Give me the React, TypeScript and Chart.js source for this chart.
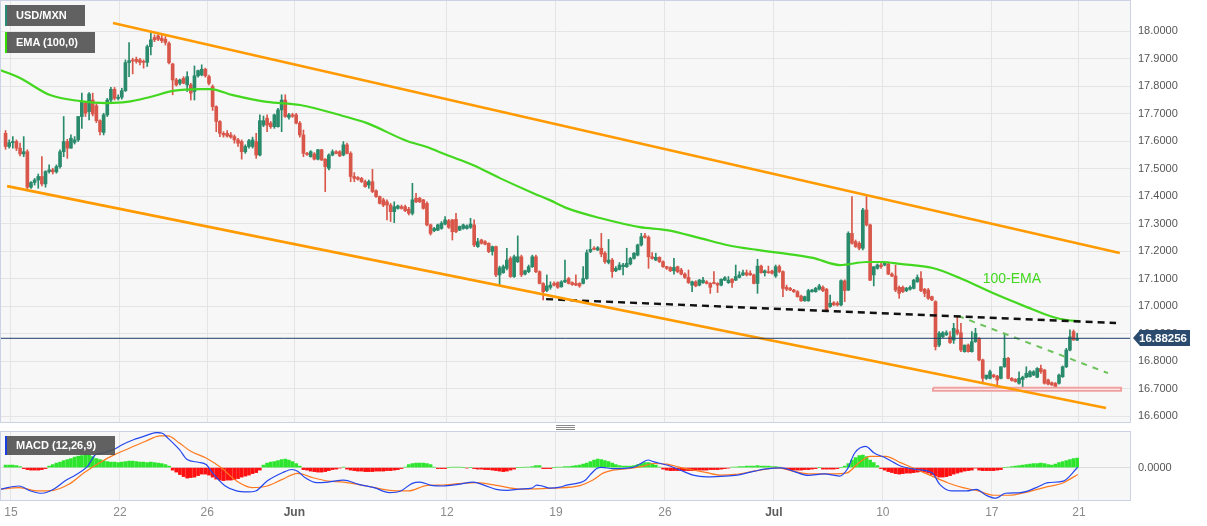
import React, { useEffect, useRef } from 'react';
import { Chart, registerables } from 'chart.js';

Chart.register(...registerables);

const FONT = '"Liberation Sans", Arial, Helvetica, sans-serif';

// ---- x axis: trading days counted from 15 May (weekends removed) ----
const DAY_TICKS = [0, 5, 9, 13, 20, 25, 30, 35, 40, 45, 49];
const DAY_LABELS = ['15', '22', '26', 'Jun', '12', '19', '26', 'Jul', '10', '17', '21'];
const MONTH_LABELS = ['Jun', 'Jul'];
const X_RANGE = [-0.4588, 51.34];

// ---- price axis ----
const PRICE_TICKS = [16.6, 16.7, 16.8, 16.9, 17.0, 17.1, 17.2, 17.3, 17.4, 17.5, 17.6, 17.7, 17.8, 17.9, 18.0];
const PRICE_RANGE = [16.5782, 18.1091];

// 4-hour candles
const FIRST_CANDLE_DAY = -0.25;
const CANDLES_PER_DAY = 6;

// [open, high, low, close]
const CANDLES: number[][] = [
  [17.628,17.638,17.570,17.580],[17.580,17.604,17.574,17.594],[17.594,17.616,17.574,17.598],[17.598,17.604,17.565,17.574],
  [17.574,17.592,17.546,17.553],[17.553,17.616,17.543,17.561],[17.561,17.568,17.422,17.432],[17.432,17.452,17.428,17.449],
  [17.449,17.464,17.440,17.458],[17.458,17.480,17.428,17.471],[17.471,17.543,17.437,17.444],[17.444,17.492,17.432,17.489],
  [17.489,17.513,17.483,17.495],[17.495,17.501,17.480,17.488],[17.488,17.513,17.483,17.507],[17.507,17.568,17.501,17.561],
  [17.561,17.689,17.543,17.598],[17.598,17.606,17.537,17.574],[17.574,17.622,17.574,17.610],[17.595,17.616,17.589,17.604],
  [17.604,17.689,17.598,17.689],[17.689,17.774,17.646,17.743],[17.737,17.743,17.689,17.701],[17.707,17.776,17.677,17.771],
  [17.749,17.774,17.691,17.698],[17.728,17.735,17.667,17.674],[17.674,17.677,17.622,17.634],[17.631,17.701,17.622,17.695],
  [17.695,17.755,17.689,17.749],[17.749,17.795,17.743,17.788],[17.788,17.795,17.749,17.755],[17.755,17.768,17.749,17.759],
  [17.759,17.792,17.752,17.783],[17.783,17.895,17.780,17.885],[17.885,17.958,17.834,17.892],[17.892,17.901,17.844,17.891],
  [17.897,17.905,17.883,17.889],[17.895,17.901,17.877,17.886],[17.889,17.895,17.865,17.886],[17.886,17.949,17.871,17.943],
  [17.943,17.992,17.913,17.968],[17.976,17.986,17.961,17.968],[17.982,17.989,17.965,17.970],[17.974,17.986,17.958,17.965],
  [17.970,17.980,17.949,17.958],[17.955,17.961,17.880,17.885],[17.880,17.883,17.768,17.822],[17.822,17.828,17.800,17.804],
  [17.810,17.825,17.804,17.822],[17.828,17.834,17.808,17.810],[17.804,17.852,17.780,17.834],[17.804,17.810,17.749,17.774],
  [17.780,17.873,17.749,17.837],[17.837,17.858,17.832,17.856],[17.840,17.877,17.837,17.861],[17.861,17.865,17.832,17.837],
  [17.834,17.840,17.804,17.810],[17.798,17.804,17.711,17.725],[17.725,17.728,17.634,17.671],[17.671,17.674,17.616,17.628],
  [17.628,17.634,17.614,17.622],[17.628,17.638,17.614,17.618],[17.622,17.631,17.610,17.614],[17.616,17.622,17.592,17.604],
  [17.604,17.610,17.580,17.592],[17.598,17.604,17.534,17.561],[17.561,17.586,17.555,17.580],[17.580,17.606,17.574,17.601],
  [17.580,17.614,17.574,17.604],[17.598,17.628,17.537,17.549],[17.549,17.695,17.546,17.674],[17.658,17.691,17.652,17.674],
  [17.683,17.695,17.634,17.658],[17.665,17.671,17.646,17.652],[17.652,17.698,17.646,17.695],[17.652,17.719,17.650,17.713],
  [17.713,17.768,17.634,17.749],[17.749,17.768,17.686,17.689],[17.686,17.701,17.679,17.695],[17.695,17.701,17.686,17.690],
  [17.695,17.701,17.662,17.665],[17.665,17.671,17.614,17.622],
  [17.622,17.640,17.543,17.555],[17.555,17.559,17.548,17.551],[17.543,17.565,17.541,17.561],[17.553,17.558,17.531,17.534],
  [17.534,17.570,17.531,17.568],[17.568,17.570,17.529,17.531],[17.534,17.536,17.416,17.507],[17.501,17.553,17.495,17.549],
  [17.549,17.568,17.546,17.561],[17.561,17.565,17.553,17.555],[17.561,17.565,17.543,17.546],[17.549,17.598,17.546,17.586],
  [17.586,17.592,17.553,17.555],[17.555,17.561,17.452,17.471],[17.471,17.485,17.452,17.464],[17.467,17.471,17.458,17.461],
  [17.464,17.468,17.449,17.452],[17.452,17.458,17.432,17.434],[17.440,17.458,17.428,17.452],[17.452,17.497,17.412,17.416],
  [17.419,17.422,17.395,17.398],[17.398,17.400,17.371,17.373],[17.386,17.392,17.361,17.367],[17.379,17.386,17.313,17.367],
  [17.367,17.373,17.307,17.343],[17.343,17.379,17.303,17.361],[17.355,17.367,17.352,17.364],[17.361,17.367,17.352,17.355],
  [17.361,17.367,17.343,17.347],[17.352,17.359,17.331,17.337],[17.337,17.446,17.331,17.386],[17.392,17.410,17.376,17.379],
  [17.392,17.395,17.376,17.379],[17.386,17.388,17.352,17.355],[17.373,17.379,17.291,17.295],[17.295,17.298,17.258,17.264],
  [17.274,17.286,17.270,17.282],[17.276,17.298,17.274,17.295],[17.282,17.307,17.279,17.301],[17.298,17.325,17.295,17.313],
  [17.310,17.315,17.282,17.286],[17.313,17.315,17.240,17.270],[17.315,17.337,17.267,17.270],[17.276,17.291,17.274,17.289],
  [17.282,17.298,17.279,17.295],[17.282,17.295,17.279,17.291],[17.286,17.319,17.282,17.298],[17.295,17.313,17.216,17.222],
  [17.216,17.246,17.213,17.234],[17.240,17.243,17.225,17.228],[17.234,17.238,17.222,17.225],[17.228,17.230,17.194,17.198],
  [17.198,17.218,17.185,17.216],[17.216,17.218,17.107,17.113],[17.113,17.145,17.076,17.139],[17.121,17.149,17.119,17.143],
  [17.137,17.210,17.131,17.167],[17.173,17.179,17.104,17.107],[17.107,17.185,17.104,17.179],[17.161,17.255,17.158,17.179],
  [17.179,17.185,17.107,17.113],[17.116,17.131,17.113,17.128],[17.125,17.149,17.121,17.143],[17.143,17.185,17.140,17.179],
  [17.179,17.185,17.121,17.125],[17.125,17.128,17.080,17.082],[17.082,17.085,17.022,17.052],[17.056,17.113,17.052,17.073],
  [17.068,17.088,17.061,17.076],[17.082,17.088,17.073,17.076],[17.085,17.088,17.064,17.068],[17.070,17.092,17.068,17.088],
  [17.088,17.167,17.085,17.094],[17.100,17.104,17.080,17.082],[17.085,17.088,17.075,17.078],[17.082,17.113,17.074,17.076],
  [17.082,17.085,17.068,17.073],[17.082,17.143,17.080,17.100],[17.100,17.204,17.097,17.194],[17.198,17.242,17.194,17.206],
  [17.210,17.216,17.204,17.206],[17.204,17.216,17.201,17.212],
  [17.210,17.264,17.179,17.189],[17.192,17.198,17.155,17.161],[17.158,17.242,17.153,17.167],[17.167,17.173,17.104,17.125],
  [17.128,17.143,17.125,17.137],[17.133,17.158,17.131,17.149],[17.143,17.155,17.113,17.149],[17.143,17.210,17.140,17.155],
  [17.153,17.177,17.149,17.173],[17.173,17.194,17.170,17.192],[17.185,17.225,17.182,17.222],[17.222,17.264,17.218,17.252],
  [17.255,17.264,17.247,17.250],[17.250,17.255,17.137,17.179],[17.179,17.194,17.170,17.173],[17.167,17.192,17.165,17.177],
  [17.177,17.179,17.158,17.161],[17.161,17.164,17.140,17.143],[17.143,17.145,17.133,17.137],[17.140,17.143,17.125,17.128],
  [17.128,17.173,17.116,17.140],[17.143,17.145,17.121,17.125],[17.131,17.137,17.113,17.116],[17.116,17.121,17.100,17.104],
  [17.104,17.131,17.082,17.085],[17.076,17.091,17.052,17.088],[17.088,17.092,17.070,17.073],[17.076,17.097,17.073,17.094],
  [17.085,17.104,17.082,17.094],[17.088,17.092,17.080,17.082],[17.082,17.085,17.046,17.068],[17.085,17.125,17.080,17.082],
  [17.082,17.085,17.049,17.076],[17.076,17.099,17.073,17.097],[17.094,17.107,17.092,17.103],[17.085,17.107,17.082,17.094],
  [17.097,17.100,17.068,17.085],[17.094,17.149,17.092,17.107],[17.104,17.125,17.102,17.113],[17.113,17.131,17.110,17.121],
  [17.121,17.131,17.109,17.113],[17.119,17.128,17.111,17.113],[17.113,17.116,17.080,17.082],[17.082,17.170,17.046,17.145],
  [17.145,17.149,17.119,17.121],[17.121,17.131,17.109,17.128],[17.125,17.145,17.119,17.121],[17.127,17.131,17.116,17.119],
  [17.109,17.149,17.104,17.143],[17.143,17.149,17.121,17.125],[17.125,17.128,17.034,17.064],[17.068,17.076,17.056,17.061],
  [17.064,17.068,17.056,17.058],[17.058,17.061,17.049,17.052],[17.052,17.056,17.032,17.034],[17.036,17.040,17.017,17.019],
  [17.019,17.036,17.017,17.034],[17.019,17.061,17.017,17.056],[17.052,17.061,17.050,17.058],[17.052,17.068,17.050,17.064],
  [17.061,17.079,17.058,17.073],[17.068,17.073,17.052,17.056],[17.061,17.064,16.979,16.985],[16.998,17.040,16.995,17.010],
  [17.012,17.016,17.002,17.004],[17.010,17.016,17.000,17.004],[17.004,17.095,17.000,17.092],[17.091,17.095,17.016,17.056],
  [17.058,17.270,17.056,17.264],[17.264,17.398,17.225,17.228],[17.234,17.240,17.213,17.216],[17.228,17.234,17.204,17.210],
  [17.210,17.355,17.204,17.349],[17.349,17.398,17.291,17.295],[17.295,17.298,17.092,17.094],[17.113,17.143,17.073,17.143],
  [17.137,17.153,17.134,17.149],[17.149,17.155,17.137,17.143],[17.149,17.161,17.146,17.158],[17.153,17.158,17.114,17.116],
  [17.116,17.121,17.107,17.109],[17.109,17.149,17.052,17.058],[17.068,17.073,17.028,17.046],
  [17.068,17.073,17.049,17.052],[17.056,17.068,17.052,17.064],[17.061,17.073,17.058,17.068],[17.064,17.097,17.062,17.094],
  [17.088,17.113,17.086,17.104],[17.100,17.125,17.052,17.056],[17.061,17.064,17.034,17.046],[17.058,17.064,17.024,17.028],
  [17.034,17.036,17.019,17.022],[17.016,17.019,16.840,16.852],[16.858,16.907,16.852,16.901],[16.888,16.907,16.885,16.903],
  [16.895,16.910,16.893,16.903],[16.888,16.907,16.864,16.867],[16.876,16.937,16.864,16.919],[16.913,16.961,16.895,16.901],
  [16.903,16.937,16.834,16.840],[16.834,16.858,16.832,16.858],[16.858,16.862,16.832,16.834],[16.834,16.907,16.832,16.870],
  [16.870,16.919,16.868,16.901],[16.882,16.885,16.800,16.804],[16.804,16.807,16.725,16.737],[16.737,16.745,16.733,16.749],
  [16.737,16.767,16.735,16.761],[16.749,16.752,16.739,16.743],[16.745,16.748,16.713,16.731],[16.737,16.779,16.735,16.779],
  [16.779,16.901,16.777,16.810],[16.810,16.813,16.735,16.737],[16.737,16.740,16.727,16.729],[16.733,16.736,16.723,16.725],
  [16.719,16.761,16.716,16.737],[16.733,16.745,16.695,16.741],[16.741,16.779,16.739,16.755],[16.743,16.765,16.741,16.761],
  [16.749,16.765,16.747,16.761],[16.741,16.776,16.739,16.773],[16.773,16.785,16.755,16.761],[16.767,16.770,16.716,16.719],
  [16.731,16.734,16.713,16.716],[16.721,16.724,16.711,16.713],[16.719,16.722,16.705,16.707],[16.719,16.752,16.716,16.749],
  [16.743,16.782,16.740,16.779],[16.779,16.846,16.776,16.840],[16.840,16.913,16.837,16.888],[16.907,16.913,16.876,16.876],
  [16.876,16.901,16.874,16.88256],
];
const LAST_PRICE = 16.88256;

// [day, value]
const EMA_100 = [
  [-0.50,17.858],[0.41,17.829],[1.79,17.767],[3.17,17.745],[4.40,17.738],[5.32,17.742],[6.38,17.760],[7.43,17.782],
  [8.67,17.789],[9.13,17.789],[10.18,17.767],[11.74,17.742],[13.26,17.731],[15.23,17.691],[16.33,17.665],[18.17,17.600],
  [19.08,17.578],[20.00,17.549],[21.19,17.513],[22.43,17.465],[23.94,17.411],[24.72,17.385],[25.50,17.356],[27.02,17.320],
  [28.85,17.287],[30.09,17.276],[31.61,17.247],[32.84,17.222],[34.22,17.204],[35.28,17.193],[36.79,17.175],[38.03,17.149],
  [39.27,17.160],[40.00,17.160],[40.78,17.153],[42.29,17.138],[43.53,17.102],[45.05,17.047],[46.61,16.996],[47.80,16.960],
  [48.44,16.949],[49.04,16.945],
];
const UPPER_CHANNEL = [[4.68, 18.029], [50.87, 17.193]];
const LOWER_CHANNEL = [[-0.18, 17.436], [50.24, 16.629]];
const SUPPORT_LINE = [[24.55, 17.025], [50.70, 16.938]];
const FALLING_LINE = [[43.45, 16.964], [50.33, 16.756]];
const ZONE_DAYS = [42.30, 50.93];
const ZONE_PRICES = [16.6915, 16.7025];
const EMA_LABEL_POS = [45.92, 17.098];

// ---- MACD (12,26,9) ----
const MACD_RANGE = [-0.0648, 0.0712];
const MACD_LINE = [
  [-0.50,-0.0434],[0.37,-0.0368],[0.90,-0.0467],[1.42,-0.0513],[1.95,-0.0434],[2.47,-0.0269],[3.00,-0.0137],[3.52,0.0028],
  [3.87,0.0259],[4.22,0.0292],[4.75,0.0371],[5.10,0.0457],[5.62,0.0556],[6.15,0.0635],[6.67,0.0701],[6.94,0.0688],
  [7.20,0.0589],[7.73,0.0358],[8.08,0.0160],[8.60,0.0107],[8.95,0.0061],[9.30,-0.0137],[9.83,-0.0368],[10.35,-0.0467],
  [10.88,-0.0487],[11.23,-0.0467],[11.75,-0.0269],[12.45,-0.0104],[12.89,-0.0038],[13.15,-0.0071],[13.50,-0.0203],[14.03,-0.0302],
  [14.55,-0.0289],[15.26,-0.0249],[15.96,-0.0335],[16.66,-0.0401],[17.36,-0.0500],[17.88,-0.0467],[18.41,-0.0315],[18.76,-0.0289],
  [19.28,-0.0355],[19.81,-0.0368],[20.51,-0.0335],[21.21,-0.0289],[21.73,-0.0355],[22.26,-0.0434],[22.78,-0.0454],[23.35,-0.0430],
  [23.90,-0.0410],[24.12,-0.0350],[24.35,-0.0365],[24.73,-0.0410],[25.19,-0.0390],[25.50,-0.0350],[26.10,-0.0300],[26.33,-0.0260],
  [26.56,-0.0150],[26.87,-0.0020],[27.10,0.0005],[27.62,-0.0020],[28.54,0.0005],[28.86,0.0072],[29.24,0.0152],[29.47,0.0118],
  [30.08,0.0052],[30.69,-0.0048],[31.29,-0.0150],[31.92,-0.0185],[32.34,-0.0180],[33.22,-0.0157],[34.11,-0.0071],[34.64,-0.0025],
  [35.35,-0.0005],[35.88,-0.0071],[36.59,-0.0157],[37.30,-0.0124],[38.01,-0.0170],[38.36,-0.0038],[38.71,0.0292],[39.21,0.0424],
  [39.60,0.0292],[40.13,0.0193],[40.84,0.0028],[41.55,-0.0038],[42.26,-0.0104],[42.61,-0.0335],[43.15,-0.0467],[43.85,-0.0467],
  [44.29,-0.0434],[44.74,-0.0553],[45.18,-0.0612],[45.62,-0.0513],[46.33,-0.0500],[47.04,-0.0401],[47.57,-0.0302],[48.28,-0.0269],
  [48.94,0.0008],
];
const SIGNAL_LINE = [
  [-0.50,-0.0434],[0.37,-0.0401],[1.25,-0.0467],[1.95,-0.0454],[2.65,-0.0335],[3.35,-0.0104],[4.05,0.0094],[4.75,0.0259],
  [5.45,0.0391],[6.15,0.0523],[6.85,0.0635],[7.20,0.0635],[7.73,0.0490],[8.25,0.0325],[8.95,0.0193],[9.65,-0.0005],
  [10.35,-0.0269],[11.05,-0.0401],[11.75,-0.0368],[12.45,-0.0236],[13.15,-0.0117],[13.86,-0.0203],[14.55,-0.0269],[15.26,-0.0289],
  [16.31,-0.0368],[17.36,-0.0454],[18.23,-0.0467],[19.11,-0.0355],[19.81,-0.0348],[20.51,-0.0322],[21.39,-0.0302],[22.26,-0.0355],
  [23.35,-0.0430],[24.86,-0.0410],[26.10,-0.0360],[26.70,-0.0250],[27.16,-0.0110],[27.62,-0.0050],[28.40,-0.0018],[29.00,0.0028],
  [29.46,0.0082],[30.10,0.0068],[30.69,0.0006],[31.29,-0.0048],[31.92,-0.0102],[32.53,-0.0150],[33.22,-0.0137],[34.11,-0.0071],
  [35.17,-0.0005],[35.88,-0.0071],[36.59,-0.0124],[37.65,-0.0124],[38.36,-0.0104],[38.89,0.0094],[39.42,0.0226],[40.13,0.0226],
  [40.84,0.0094],[41.55,-0.0038],[42.26,-0.0170],[42.97,-0.0302],[43.67,-0.0401],[44.38,-0.0467],[45.09,-0.0553],[45.80,-0.0553],
  [46.51,-0.0500],[47.39,-0.0401],[48.28,-0.0302],[48.94,-0.0137],
];
// one histogram bar per candle
const MACD_HIST = [
  0.005,0.005,0.005,0.004,0.002,-0.002,-0.004,-0.005,-0.005,-0.005,-0.004,-0.002,
  0.003,0.006,0.009,0.011,0.014,0.016,0.018,0.021,0.023,0.024,0.025,0.025,0.022,0.018,0.016,0.014,0.012,0.011,
  0.011,0.010,0.011,0.012,0.013,0.013,0.012,0.011,0.011,0.010,0.011,0.010,0.009,0.008,0.006,0.003,
  -0.005,-0.009,-0.014,-0.018,-0.021,-0.020,-0.019,-0.016,-0.013,-0.013,-0.015,-0.019,-0.023,-0.025,-0.026,-0.025,-0.025,-0.024,-0.022,-0.019,-0.017,-0.015,-0.012,-0.010,-0.005,
  0.005,0.009,0.011,0.012,0.014,0.016,0.017,0.015,0.012,0.008,0.003,
  -0.004,-0.005,-0.007,-0.008,-0.009,-0.009,-0.008,-0.006,-0.004,-0.003,-0.001,0.001,
  -0.003,-0.005,-0.006,-0.007,-0.007,-0.008,-0.008,-0.008,-0.007,-0.007,-0.007,-0.006,-0.006,-0.005,-0.004,-0.002,0.001,
  0.006,0.008,0.009,0.009,0.009,0.008,0.006,0.001,
  -0.002,-0.002,-0.002,0.000,0.001,0.001,0.001,0.000,-0.001,0.000,-0.002,
  -0.003,-0.003,-0.004,-0.004,-0.005,-0.006,-0.007,-0.008,-0.007,-0.005,-0.003,
  0.000,0.000,0.001,0.001,0.002,0.004,0.004,-0.002,-0.002,-0.002,0.000,0.001,
  0.001,0.002,0.002,0.003,0.004,0.005,0.007,0.009,0.012,0.015,0.017,
  0.016,0.014,0.012,0.009,0.006,0.004,0.003,0.003,0.003,0.004,0.006,0.008,0.010,0.010,0.008,0.005,0.001,
  -0.003,-0.005,-0.006,-0.006,-0.006,-0.006,-0.006,-0.006,-0.006,-0.005,-0.005,-0.005,-0.005,-0.004,-0.004,-0.004,-0.003,-0.002,-0.001,
  0.001,0.001,0.002,0.002,0.003,0.003,0.003,0.004,0.003,0.003,0.003,0.002,0.002,0.001,
  -0.002,-0.004,-0.005,-0.005,-0.005,-0.005,-0.004,-0.004,-0.003,-0.002,0.000,-0.003,-0.003,-0.003,-0.003,-0.002,0.000,0.003,
  0.008,0.015,0.020,0.024,0.025,0.022,0.015,0.010,0.004,
  -0.002,-0.005,-0.008,-0.010,-0.012,-0.013,-0.012,-0.011,-0.011,-0.010,-0.009,-0.008,-0.009,-0.011,-0.014,-0.017,-0.019,-0.019,-0.018,-0.016,-0.013,-0.011,-0.009,-0.007,-0.006,-0.005,
  -0.001,-0.005,-0.006,-0.006,-0.006,-0.006,-0.005,-0.004,0.000,
  0.001,0.002,0.003,0.004,0.005,0.006,0.007,0.008,0.008,0.009,0.008,0.006,0.005,0.007,0.010,0.012,0.014,0.016,0.018,0.019,
];

// ---- styles ----
const PANEL_BG = '#f7f7f7';
const PANEL_BORDER = '#cbd2e3';
const GRID = '#e4e4e4';
const UP = '#2a8a6c';
const DOWN = '#d9574a';
const EMA_COLOR = '#43d81f';
const CHANNEL_COLOR = '#ff9a00';
const HIST_UP = '#2ee52e';
const HIST_DOWN = '#ff1010';

const candleDay = (i: number) => FIRST_CANDLE_DAY + i / CANDLES_PER_DAY;
const pts = (arr: number[][]) => arr.map(([x, y]) => ({ x, y }));
const isMonth = (v: number) => MONTH_LABELS.includes(DAY_LABELS[DAY_TICKS.indexOf(v)]);

function xScale(showLabels: boolean): any {
  return {
    type: 'linear',
    min: X_RANGE[0],
    max: X_RANGE[1],
    offset: false,
    afterBuildTicks: (s: any) => { s.ticks = DAY_TICKS.map((v) => ({ value: v })); },
    afterFit: (s: any) => { s.height = showLabels ? 26 : 0; s.paddingLeft = 0; s.paddingRight = 0; },
    grid: { color: GRID, lineWidth: 1, drawTicks: false, offset: false },
    border: { display: false },
    ticks: showLabels
      ? {
          autoSkip: false,
          maxRotation: 0,
          padding: 5,
          callback: (v: any) => { const k = DAY_TICKS.indexOf(Number(v)); return k >= 0 ? DAY_LABELS[k] : ''; },
          font: (c: any) => ({ family: FONT, size: 12, weight: isMonth(c.tick?.value) ? 'bold' : 'normal' }),
          color: (c: any) => (isMonth(c.tick?.value) ? '#5c5c5c' : '#8a8a8a'),
        }
      : { display: false },
  };
}

function panelPlugin(extra?: (chart: any) => void) {
  return {
    id: 'panel',
    beforeDraw(chart: any) {
      const { ctx, chartArea: a } = chart;
      ctx.save();
      ctx.fillStyle = PANEL_BG;
      ctx.fillRect(a.left, a.top, a.right - a.left, a.bottom - a.top);
      ctx.restore();
    },
    afterDraw(chart: any) {
      const { ctx, chartArea: a } = chart;
      ctx.save();
      ctx.strokeStyle = PANEL_BORDER;
      ctx.lineWidth = 1;
      ctx.strokeRect(a.left - 0.5, a.top - 0.5, a.right - a.left + 1, a.bottom - a.top + 1);
      ctx.restore();
      if (extra) extra(chart);
    },
  };
}

function drawMainExtras(chart: any) {
  const { ctx, chartArea: a, scales } = chart;
  // 100-EMA label
  ctx.save();
  ctx.fillStyle = EMA_COLOR;
  ctx.font = `14px ${FONT}`;
  ctx.textAlign = 'center';
  ctx.textBaseline = 'middle';
  ctx.fillText('100-EMA', scales.x.getPixelForValue(EMA_LABEL_POS[0]), scales.y.getPixelForValue(EMA_LABEL_POS[1]));
  // last price tag
  const y = Math.round(scales.y.getPixelForValue(LAST_PRICE));
  const x0 = a.right + 3;
  ctx.fillStyle = '#2a4a6e';
  ctx.beginPath();
  ctx.moveTo(x0, y);
  ctx.lineTo(x0 + 7, y - 8);
  ctx.lineTo(x0 + 57, y - 8);
  ctx.lineTo(x0 + 57, y + 8);
  ctx.lineTo(x0 + 7, y + 8);
  ctx.closePath();
  ctx.fill();
  ctx.fillStyle = '#ffffff';
  ctx.font = `bold 11.5px ${FONT}`;
  ctx.textAlign = 'left';
  ctx.fillText(LAST_PRICE.toFixed(5), x0 + 6, y + 0.5);
  ctx.restore();
}

function mainConfig(): any {
  const colors = CANDLES.map((c) => (c[3] >= c[0] ? UP : DOWN));
  const line = (data: number[][], color: string, width: number, dash: number[] = []) => ({
    type: 'line',
    data: pts(data),
    borderColor: color,
    borderWidth: width,
    borderDash: dash,
    pointRadius: 0,
    tension: 0,
    fill: false,
    order: 1,
  });
  return {
    type: 'bar',
    data: {
      datasets: [
        {
          type: 'bar',
          data: CANDLES.map((c, i) => ({ x: candleDay(i), y: [c[2], c[1]] })),
          backgroundColor: colors,
          barThickness: 1,
          grouped: false,
          minBarLength: 1,
          order: 10,
        },
        {
          type: 'bar',
          data: CANDLES.map((c, i) => ({ x: candleDay(i), y: [Math.min(c[0], c[3]), Math.max(c[0], c[3])] })),
          backgroundColor: colors,
          barThickness: 3,
          grouped: false,
          minBarLength: 1,
          order: 9,
        },
        {
          type: 'line',
          data: [
            { x: ZONE_DAYS[0], y: ZONE_PRICES[1] },
            { x: ZONE_DAYS[1], y: ZONE_PRICES[1] },
            { x: ZONE_DAYS[1], y: ZONE_PRICES[0] },
            { x: ZONE_DAYS[0], y: ZONE_PRICES[0] },
            { x: ZONE_DAYS[0], y: ZONE_PRICES[1] },
          ],
          borderColor: '#f0a0a0',
          borderWidth: 2,
          backgroundColor: '#ffffff',
          fill: 'shape',
          pointRadius: 0,
          tension: 0,
          order: 3,
        },
        {
          type: 'line',
          data: pts(EMA_100),
          borderColor: EMA_COLOR,
          borderWidth: 2.2,
          pointRadius: 0,
          cubicInterpolationMode: 'monotone',
          fill: false,
          order: 2,
        },
        line([[X_RANGE[0], LAST_PRICE], [X_RANGE[1], LAST_PRICE]], '#1f3d66', 1),
        line(UPPER_CHANNEL, CHANNEL_COLOR, 2.6),
        line(LOWER_CHANNEL, CHANNEL_COLOR, 2.6),
        line(SUPPORT_LINE, '#111111', 2.4, [7, 5]),
        line(FALLING_LINE, '#6cc25a', 2, [6, 6]),
      ],
    },
    options: {
      responsive: false,
      animation: false,
      devicePixelRatio: 1,
      events: [],
      layout: { padding: { left: 1, top: 1, right: 0, bottom: 1 } },
      plugins: { legend: { display: false }, tooltip: { enabled: false } },
      scales: {
        x: xScale(false),
        y: {
          type: 'linear',
          position: 'right',
          min: PRICE_RANGE[0],
          max: PRICE_RANGE[1],
          afterBuildTicks: (s: any) => { s.ticks = PRICE_TICKS.map((v) => ({ value: v })); },
          afterFit: (s: any) => { s.width = 77; s.paddingTop = 0; s.paddingBottom = 0; },
          grid: { color: GRID, drawTicks: false },
          border: { display: false },
          ticks: {
            padding: 8,
            color: '#555555',
            font: { family: FONT, size: 11 },
            callback: (v: any) => Number(v).toFixed(4),
          },
        },
      },
    },
    plugins: [panelPlugin(drawMainExtras)],
  };
}

function macdConfig(): any {
  return {
    type: 'bar',
    data: {
      datasets: [
        {
          type: 'bar',
          data: MACD_HIST.map((v, i) => ({ x: candleDay(i), y: v })),
          backgroundColor: MACD_HIST.map((v) => (v >= 0 ? HIST_UP : HIST_DOWN)),
          barThickness: 3,
          grouped: false,
          order: 5,
        },
        {
          type: 'line',
          data: pts(SIGNAL_LINE),
          borderColor: '#ff7a1f',
          borderWidth: 1.2,
          pointRadius: 0,
          cubicInterpolationMode: 'monotone',
          fill: false,
          order: 2,
        },
        {
          type: 'line',
          data: pts(MACD_LINE),
          borderColor: '#2447ee',
          borderWidth: 1.2,
          pointRadius: 0,
          cubicInterpolationMode: 'monotone',
          fill: false,
          order: 1,
        },
      ],
    },
    options: {
      responsive: false,
      animation: false,
      devicePixelRatio: 1,
      events: [],
      layout: { padding: { left: 1, top: 9, right: 0, bottom: 0 } },
      plugins: { legend: { display: false }, tooltip: { enabled: false } },
      scales: {
        x: xScale(true),
        y: {
          type: 'linear',
          position: 'right',
          min: MACD_RANGE[0],
          max: MACD_RANGE[1],
          afterBuildTicks: (s: any) => { s.ticks = [{ value: 0 }]; },
          afterFit: (s: any) => { s.width = 77; s.paddingTop = 0; s.paddingBottom = 0; },
          grid: { color: '#dcdcdc', drawTicks: false },
          border: { display: false },
          ticks: {
            padding: 8,
            color: '#555555',
            font: { family: FONT, size: 11 },
            callback: (v: any) => Number(v).toFixed(4),
          },
        },
      },
    },
    plugins: [panelPlugin()],
  };
}

function Tag({ text, top, width, height, stripe }: { text: string; top: number; width: number; height: number; stripe: string }) {
  return (
    <div
      style={{
        position: 'absolute',
        left: 5,
        top,
        width,
        height,
        boxSizing: 'border-box',
        background: 'rgba(80,80,80,0.9)',
        borderLeft: `2px solid ${stripe}`,
        color: '#ffffff',
        font: `bold 11px ${FONT}`,
        lineHeight: `${height}px`,
        paddingLeft: 9,
        whiteSpace: 'nowrap',
      }}
    >
      {text}
    </div>
  );
}

export default function App() {
  const mainRef = useRef<HTMLCanvasElement>(null);
  const macdRef = useRef<HTMLCanvasElement>(null);

  useEffect(() => {
    const main = new Chart(mainRef.current as HTMLCanvasElement, mainConfig());
    const macd = new Chart(macdRef.current as HTMLCanvasElement, macdConfig());
    return () => {
      main.destroy();
      macd.destroy();
    };
  }, []);

  return (
    <div style={{ position: 'absolute', left: 0, top: 0, width: 1207, height: 526, background: '#ffffff', overflow: 'hidden' }}>
      <canvas ref={mainRef} width={1207} height={423} style={{ position: 'absolute', left: 0, top: 0 }} />
      <canvas ref={macdRef} width={1207} height={103} style={{ position: 'absolute', left: 0, top: 423 }} />
      <Tag text="USD/MXN" top={5} width={80} height={21} stripe="#2a8a78" />
      <Tag text="EMA (100,0)" top={32} width={90} height={21} stripe="#33dd00" />
      <Tag text="MACD (12,26,9)" top={436} width={110} height={19} stripe="#1a3fe0" />
      <div
        style={{
          position: 'absolute',
          left: 556,
          top: 425,
          width: 19,
          height: 5,
          background: 'repeating-linear-gradient(to bottom, #8a8a8a 0px, #8a8a8a 1px, transparent 1px, transparent 2px)',
        }}
      />
    </div>
  );
}
